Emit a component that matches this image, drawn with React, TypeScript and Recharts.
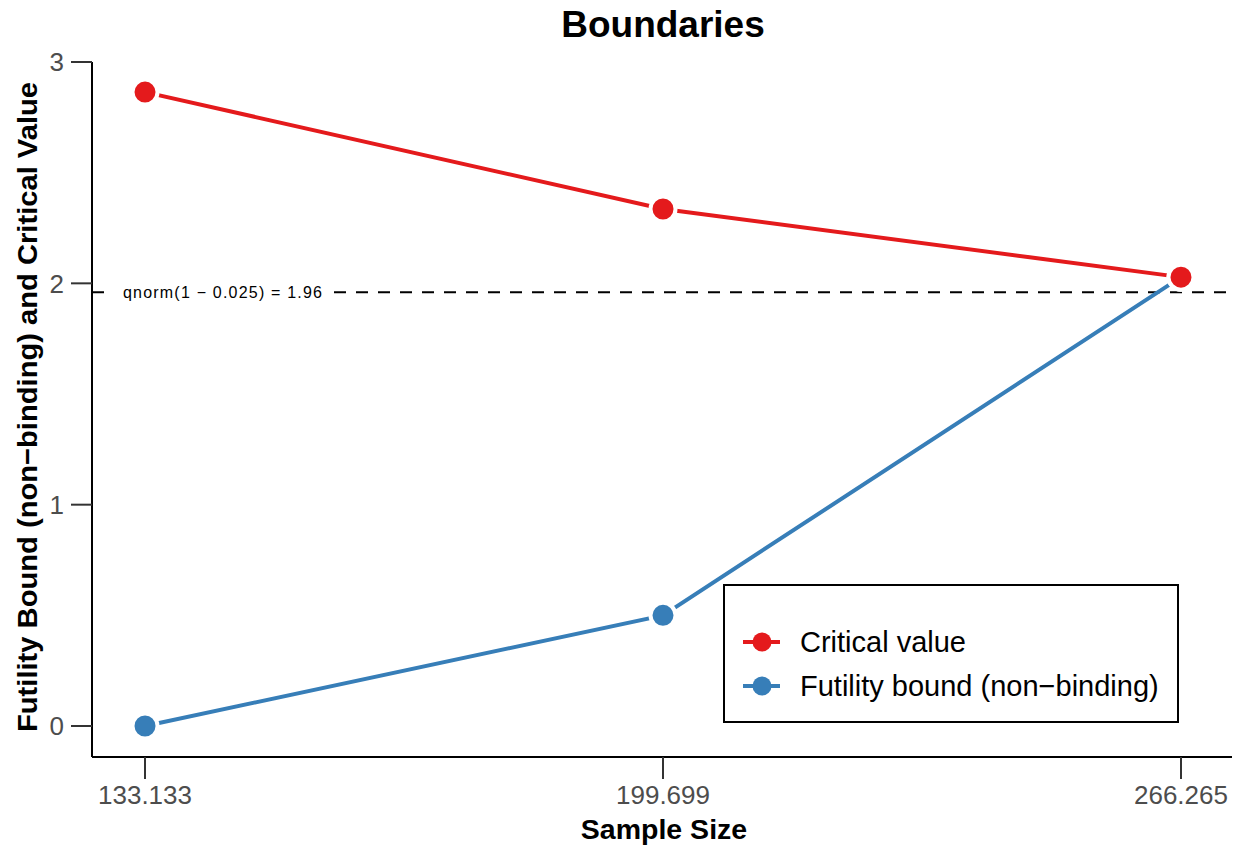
import React from 'react';
import { LineChart, Line, XAxis, YAxis, ReferenceLine } from 'recharts';

const sampleSizes = [133.133, 199.699, 266.265];
const criticalValues = [2.864, 2.336, 2.028];
const futilityBounds = [0, 0.5, 2.028];
const yTicks = [0, 1, 2, 3];
const refValue = 1.96;
const refLabel = 'qnorm(1 \u2212 0.025) = 1.96';
const seriesNames = ['Critical value', 'Futility bound (non\u2212binding)'];
const seriesColors = ['#E41A1C', '#377EB8'];
const titleText = 'Boundaries';
const xLabel = 'Sample Size';
const yLabel = 'Futility Bound (non\u2212binding) and Critical Value';

const data = sampleSizes.map((x, i) => ({
  x,
  critical: criticalValues[i],
  futility: futilityBounds[i],
}));

const FONT = '"Liberation Sans", Arial, Helvetica, sans-serif';

const RefLabel = (props: any) => {
  const { viewBox } = props;
  const y = viewBox.y;
  return (
    <g>
      <rect x={112} y={y - 12} width={222} height={24} fill="#fff" />
      <text x={123} y={y} dy="0.35em" fontSize={16} fill="#000" fontFamily={FONT} textLength={199} lengthAdjust="spacing">
        {refLabel}
      </text>
    </g>
  );
};

export default function App() {
  return (
    <div style={{ position: 'absolute', left: 0, top: 0, width: 1242, height: 848, background: '#fff', fontFamily: FONT }}>
      <LineChart
        width={1242}
        height={848}
        data={data}
        margin={{ top: 62, right: 10, bottom: 61, left: 0 }}
      >
        <XAxis
          dataKey="x"
          type="number"
          domain={[126.32, 272.82]}
          ticks={sampleSizes}
          tickFormatter={(v: number) => v.toFixed(3)}
          height={30}
          axisLine={{ stroke: '#000', strokeWidth: 2 }}
          tickLine={{ stroke: '#333', strokeWidth: 2 }}
          tickSize={22}
          tickMargin={7}
          tick={{ fill: '#4d4d4d', fontSize: 26, fontFamily: FONT }}
          interval={0}
        />
        <YAxis
          type="number"
          domain={[-0.14, 3]}
          ticks={yTicks}
          width={92}
          axisLine={{ stroke: '#000', strokeWidth: 2 }}
          tickLine={{ stroke: '#333', strokeWidth: 2 }}
          tickSize={21}
          tickMargin={7}
          tick={{ fill: '#4d4d4d', fontSize: 26, fontFamily: FONT }}
          interval={0}
          allowDataOverflow
        />
        <ReferenceLine
          y={refValue}
          stroke="#000"
          strokeWidth={2}
          strokeDasharray="12 10"
          label={<RefLabel />}
        />
        <Line
          dataKey="futility"
          stroke={seriesColors[1]}
          strokeWidth={4}
          dot={{ r: 12.5, fill: seriesColors[1], stroke: '#fff', strokeWidth: 4 }}
          isAnimationActive={false}
        />
        <Line
          dataKey="critical"
          stroke={seriesColors[0]}
          strokeWidth={4}
          dot={{ r: 12.5, fill: seriesColors[0], stroke: '#fff', strokeWidth: 4 }}
          isAnimationActive={false}
        />
      </LineChart>
      <svg width={1242} height={848} style={{ position: 'absolute', left: 0, top: 0, pointerEvents: 'none' }}>
        <text x={663} y={37} textAnchor="middle" fontSize={37} fontWeight="bold" fontFamily={FONT} fill="#000">
          {titleText}
        </text>
        <text x={664} y={839} textAnchor="middle" fontSize={28.5} fontWeight="bold" fontFamily={FONT} fill="#000">
          {xLabel}
        </text>
        <text
          x={0}
          y={0}
          transform="translate(37,407) rotate(-90)"
          textAnchor="middle"
          fontSize={28.5}
          fontWeight="bold"
          fontFamily={FONT}
          fill="#000"
          textLength={650}
          lengthAdjust="spacingAndGlyphs"
        >
          {yLabel}
        </text>
        <rect x={724} y={585} width={454} height={137} fill="#fff" stroke="#000" strokeWidth={2} />
        {seriesNames.map((name, i) => (
          <g key={name}>
            <line x1={743} x2={780} y1={642 + i * 44} y2={642 + i * 44} stroke={seriesColors[i]} strokeWidth={4} />
            <circle cx={762} cy={642 + i * 44} r={9.5} fill={seriesColors[i]} />
            <text x={800} y={642 + i * 44} dy="0.35em" fontSize={29} fontFamily={FONT} fill="#000">
              {name}
            </text>
          </g>
        ))}
      </svg>
    </div>
  );
}
